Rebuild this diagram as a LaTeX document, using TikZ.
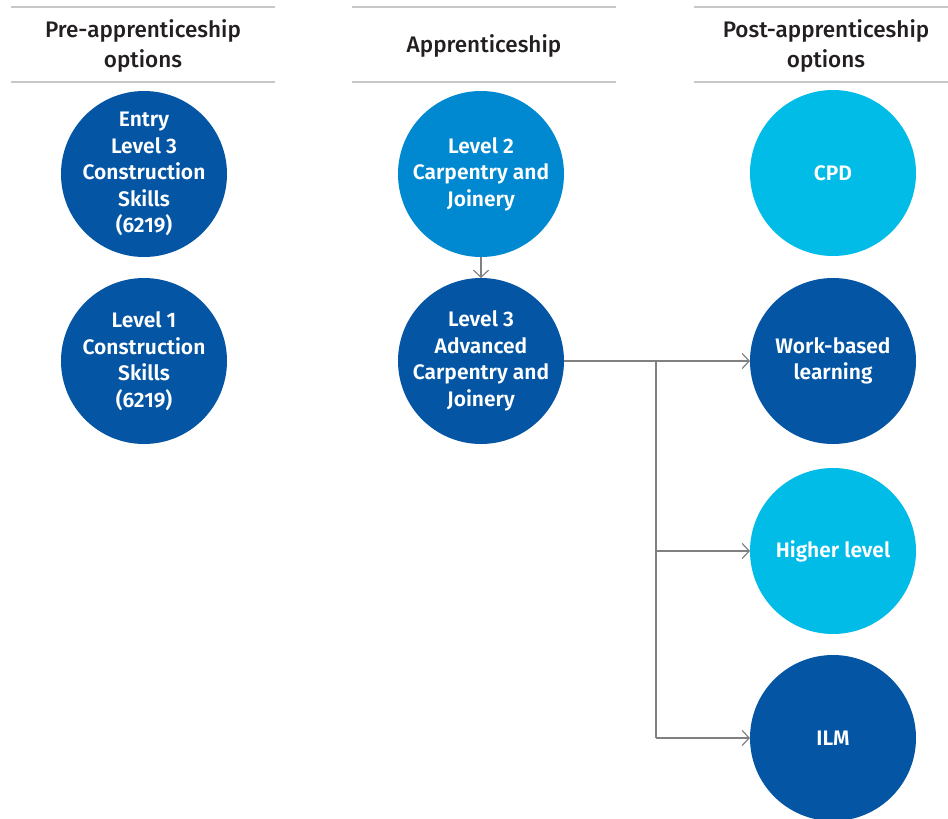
\documentclass[tikz,border=0pt]{standalone}
\usepackage{fontspec}
\setmainfont{Fira Sans}[BoldFont={* SemiBold}]
\newfontfamily\headfont{Fira Sans Medium}
\usetikzlibrary{arrows.meta}
\definecolor{darkblue}{HTML}{0455A4}
\definecolor{midblue}{HTML}{0089D0}
\definecolor{lightblue}{HTML}{00BCE7}
\definecolor{headgrey}{HTML}{231F20}
\definecolor{rulegrey}{HTML}{C8C8C8}
\definecolor{linegrey}{HTML}{808080}

\begin{document}
\begin{tikzpicture}[
      x=1pt,y=-1pt,
      heading/.style={font=\headfont\fontsize{22.5}{30}\selectfont, text=headgrey, align=center},
      rule/.style={draw=rulegrey, line width=1.3pt},
      stage/.style={circle, minimum size=166pt, inner sep=-40pt, outer sep=0pt, text=white, align=center,
        font=\fontsize{21}{26.5}\selectfont\bfseries},
      link/.style={draw=linegrey, line width=1.2pt},
      pointer/.style={link, -{Straight Barb[length=7pt,width=15pt]}}
      ]
      \useasboundingbox (0,0) rectangle (948,819);
      % column headings
      \draw[rule] (11,7) -- (275,7) (11,82) -- (275,82);
      \draw[rule] (352,7) -- (616,7) (352,82) -- (616,82);
      \draw[rule] (694,7) -- (948,7) (694,82) -- (948,82);
      \node[heading] (prehead) at (143,46) {Pre-apprenticeship\\options};
      \node[heading] (apphead) at (484,46) {Apprenticeship};
      \node[heading] (posthead) at (826,46) {Post-apprenticeship\\options};
      % pre-apprenticeship
      \node[stage, fill=darkblue] (entry) at (144,174) {Entry\\Level 3\\Construction\\Skills\\(6219)};
      \node[stage, fill=darkblue] (levelone) at (144,361) {Level 1\\Construction\\Skills\\(6219)};
      % apprenticeship
      \node[stage, fill=midblue] (leveltwo) at (481,174) {Level 2\\Carpentry and\\Joinery};
      \node[stage, fill=darkblue] (levelthree) at (481,361) {Level 3\\Advanced\\Carpentry and\\Joinery};
      % post-apprenticeship
      \node[stage, fill=lightblue] (cpd) at (833,173) {CPD};
      \node[stage, fill=darkblue] (work) at (833,361) {Work-based\\learning};
      \node[stage, fill=lightblue] (higher) at (833,551) {Higher level};
      \node[stage, fill=darkblue] (ilm) at (833,738) {ILM};
      % connectors
      \coordinate (split) at (656,361);
      \path (leveltwo) edge [pointer] (levelthree);
      \draw[link] (levelthree.east) -- (split);
      \draw[link] (split) -- (split |- ilm.west);
      \draw[pointer] (split) -- (work.west);
      \draw[pointer] (split |- higher.west) -- (higher.west);
      \draw[pointer] (split |- ilm.west) -- (ilm.west);
    \end{tikzpicture}
\end{document}
